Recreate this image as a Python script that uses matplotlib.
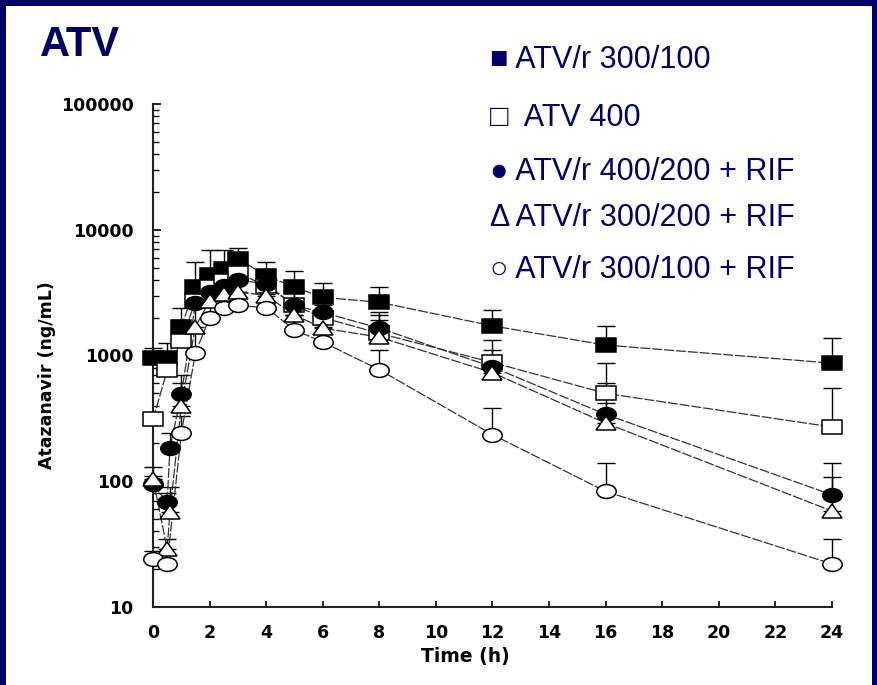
import matplotlib.pyplot as plt
import numpy as np
from matplotlib.markers import MarkerStyle
from matplotlib.transforms import Affine2D
from matplotlib.patches import Rectangle

# sampling times (h)
t_all = [0, 0.5, 1, 1.5, 2, 2.5, 3, 4, 5, 6, 8, 12, 16, 24]
t_rif = [0, 0.5, 0.6, 1, 1.5, 2, 2.5, 3, 4, 5, 6, 8, 12, 16, 24]

# mean concentrations (ng/mL) and top of the SD bars
atvr_300_100 = [950, 950, 1700, 3500, 4400, 4900, 5900, 4300, 3500, 2900, 2650, 1720, 1210, 870]
atvr_300_100_top = [1150, 1250, 2400, 5500, 6900, 6900, 7200, 5500, 4700, 3770, 3500, 2300, 1720, 1380]

atv_400 = [310, 760, 1300, 2700, 3500, 3900, 4500, 3600, 2500, 2000, 1500, 880, 500, 270]
atv_400_top = [330, 1000, 1900, 3600, 4800, 5200, 5800, 4600, 3300, 2500, 2100, 1330, 870, 550]

atvr_400_200_rif = [95, 68, 185, 490, 2600, 3200, 3600, 4000, 3700, 2500, 2200, 1650, 810, 340, 78]
atvr_400_200_rif_top = [110, 80, 240, 700, 3600, 4200, 4700, 5000, 4700, 3200, 2900, 2200, 1100, 600, 140]

atvr_300_200_rif = [105, 29, 57, 400, 1700, 2700, 3100, 3200, 3000, 2100, 1650, 1400, 730, 290, 58]
atvr_300_200_rif_top = [130, 35, 90, 600, 2500, 3500, 3900, 4000, 3900, 2700, 2100, 1900, 1000, 420, 108]

atvr_300_100_rif = [24, 22, 240, 1050, 2000, 2400, 2500, 2400, 1600, 1280, 770, 235, 83, 22]
atvr_300_100_rif_top = [28, 26, 330, 1500, 2700, 3100, 3200, 3100, 2100, 1700, 1100, 380, 140, 35]

legend_labels = ['\u25a0 ATV/r 300/100', '\u25a1  ATV 400', '\u25cf ATV/r 400/200 + RIF',
                 '\u0394 ATV/r 300/200 + RIF', '\u25cb ATV/r 300/100 + RIF']

navy = '#000066'

fig = plt.figure(figsize=(8.78, 6.85), dpi=100)
fig.patch.set_facecolor(navy)
fig.patches.append(Rectangle((6 / 878, 0), 866 / 878, 679 / 685, transform=fig.transFigure,
                             facecolor='white', edgecolor='none', zorder=-10))

ax = fig.add_axes([153 / 878, 1 - 607 / 685, 679 / 878, 503 / 685])
ax.set_facecolor('none')


def wide(m):
    # the markers in the scan are stretched sideways
    return MarkerStyle(m, transform=Affine2D().scale(1.4, 1.0))


series = [
    (t_all, atvr_300_100, atvr_300_100_top, 's', 'black'),
    (t_all, atv_400, atv_400_top, 's', 'white'),
    (t_rif, atvr_400_200_rif, atvr_400_200_rif_top, 'o', 'black'),
    (t_rif, atvr_300_200_rif, atvr_300_200_rif_top, '^', 'white'),
    (t_all, atvr_300_100_rif, atvr_300_100_rif_top, 'o', 'white'),
]

for t, y, top, m, fc in series:
    y = np.array(y, dtype=float)
    up = np.array(top, dtype=float) - y
    ax.errorbar(t, y, yerr=[np.zeros_like(y), up], fmt='none', ecolor='black',
                elinewidth=1.0, capsize=6.5, capthick=1.0, clip_on=False, zorder=2)
    ax.plot(t, y, color='#333333', lw=0.9, dashes=(8, 1.5), zorder=3, clip_on=False)
    ax.plot(t, y, linestyle='none', marker=wide(m), markersize=10, markerfacecolor=fc,
            markeredgecolor='black', markeredgewidth=1.1, zorder=4, clip_on=False)

ax.set_yscale('log')
ax.set_ylim(10, 100000)
ax.set_xlim(0, 24)
ax.set_xticks(np.arange(0, 25, 2))
ax.set_yticks([10, 100, 1000, 10000, 100000])
ax.set_yticklabels(['10', '100', '1000', '10000', '100000'])

for s in ['top', 'right']:
    ax.spines[s].set_visible(False)
for s in ['left', 'bottom']:
    ax.spines[s].set_linewidth(1.5)
    ax.spines[s].set_color('#222222')

ax.tick_params(axis='x', direction='in', length=4, width=1.2, pad=12)
ax.tick_params(axis='y', which='major', direction='in', length=6, width=1.2, pad=14)
ax.tick_params(axis='y', which='minor', direction='in', length=4, width=1.0)
for lab in ax.get_xticklabels() + ax.get_yticklabels():
    lab.set_fontweight('bold')
    lab.set_fontsize(12.5)
    lab.set_family('DejaVu Sans')

ax.set_ylabel('Atazanavir (ng/mL)', fontsize=12.5, fontweight='bold')
ax.yaxis.set_label_coords(-0.143, 0.46)
ax.set_xlabel('Time (h)', fontsize=13.5, fontweight='bold')
ax.xaxis.set_label_coords(0.46, -0.08)

fig.text(40 / 878, 1 - 45 / 685, 'ATV', color=navy, fontsize=30, fontweight='bold',
         family=['Liberation Sans', 'DejaVu Sans'], va='center', ha='left')

legend_y = [60, 118, 172, 218, 270]
for lab, yy in zip(legend_labels, legend_y):
    fig.text(490 / 878, 1 - yy / 685, lab, color=navy, fontsize=22,
             family=['Liberation Sans', 'DejaVu Sans'], va='center', ha='left')

fig.savefig('out.png', dpi=100, facecolor=fig.get_facecolor())
